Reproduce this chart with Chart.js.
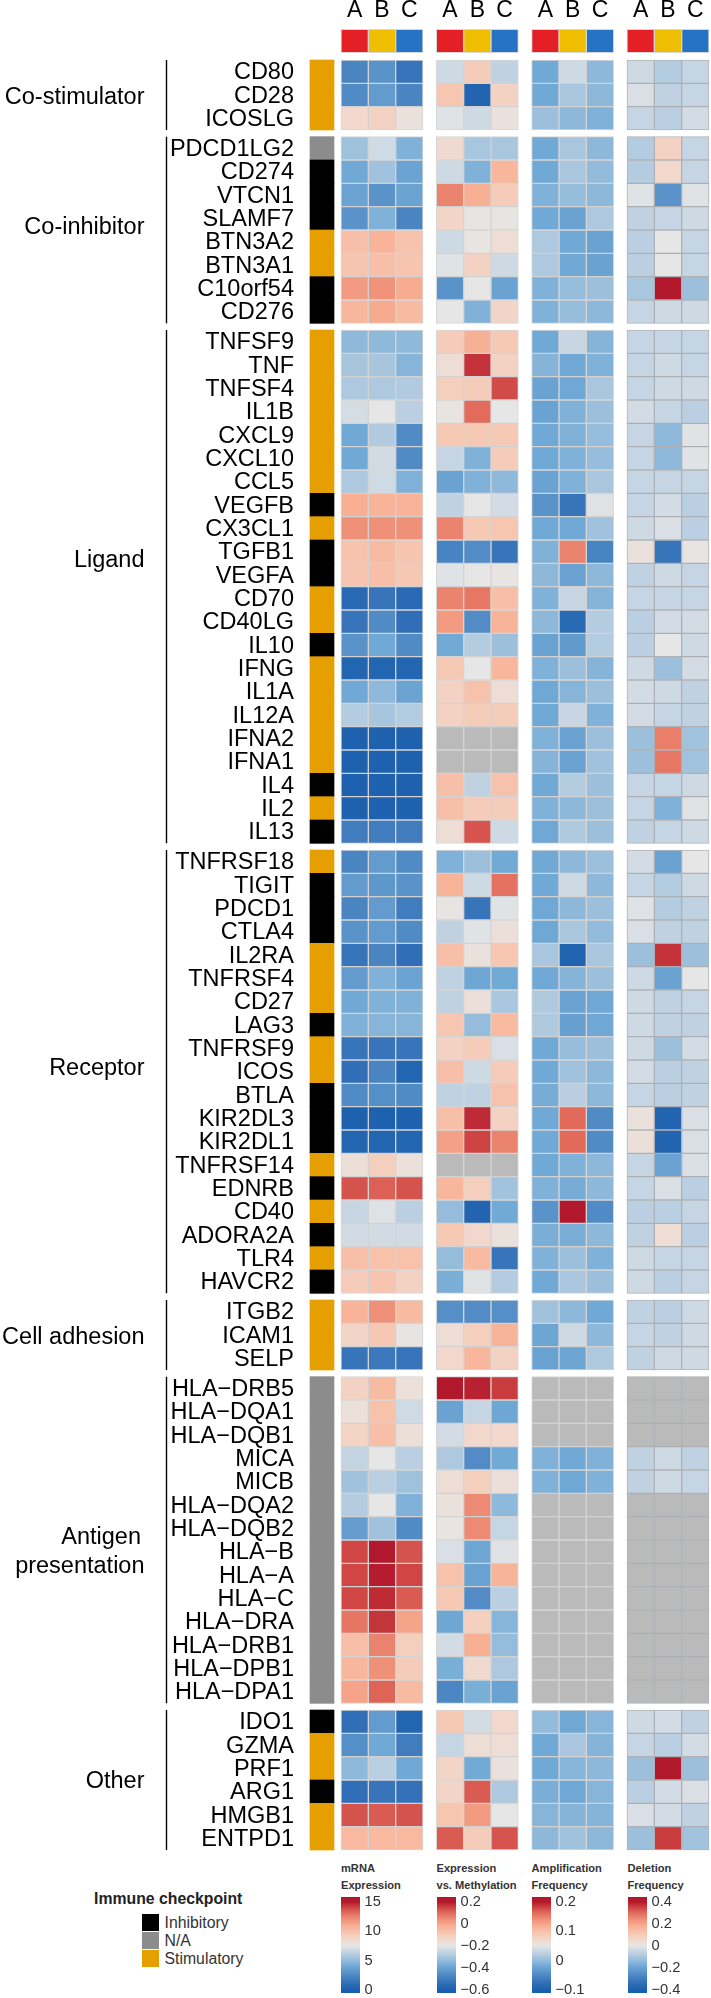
<!DOCTYPE html>
<html>
<head>
<meta charset="utf-8">
<title>Immune checkpoint heatmap</title>
<script src="https://cdn.jsdelivr.net/npm/chart.js@4"></script>
<style>
    html, body { margin: 0; padding: 0; background: #fff; }
    #page { position: relative; width: 711px; height: 1998px; overflow: hidden; font-family: "Liberation Sans", Arial, sans-serif; }
    canvas { position: absolute; display: block; }
    .title { position: absolute; font-weight: bold; font-size: 11.1px; line-height: 17px; color: #333; white-space: nowrap; }
    .legendTitle { position: absolute; left: 94px; top: 1890px; font-weight: bold; font-size: 15.8px; color: #222; white-space: nowrap; }
    .swatch { position: absolute; left: 142px; width: 17px; height: 17px; }
    .swatchLabel { position: absolute; left: 164.5px; font-size: 15.8px; line-height: 17px; color: #333; }
</style>
</head>
<body>
<div id="page">
    <canvas id="mainChart"></canvas>
</div>
<script>
'use strict';

let subtypes = ['A', 'B', 'C'];
let subtypeColors = ['#e41f26', '#efbe00', '#2672c4'];

let groupNames = [['Co-stimulator'], ['Co-inhibitor'], ['Ligand'], ['Receptor'], ['Cell adhesion'], ['Antigen', 'presentation'], ['Other']];
let groupSizes = [3, 8, 22, 19, 3, 14, 6];

let genes = [
    'CD80', 'CD28', 'ICOSLG',
    'PDCD1LG2', 'CD274', 'VTCN1', 'SLAMF7', 'BTN3A2', 'BTN3A1', 'C10orf54', 'CD276',
    'TNFSF9', 'TNF', 'TNFSF4', 'IL1B', 'CXCL9', 'CXCL10', 'CCL5', 'VEGFB', 'CX3CL1', 'TGFB1', 'VEGFA',
    'CD70', 'CD40LG', 'IL10', 'IFNG', 'IL1A', 'IL12A', 'IFNA2', 'IFNA1', 'IL4', 'IL2', 'IL13',
    'TNFRSF18', 'TIGIT', 'PDCD1', 'CTLA4', 'IL2RA', 'TNFRSF4', 'CD27', 'LAG3', 'TNFRSF9', 'ICOS', 'BTLA',
    'KIR2DL3', 'KIR2DL1', 'TNFRSF14', 'EDNRB', 'CD40', 'ADORA2A', 'TLR4', 'HAVCR2',
    'ITGB2', 'ICAM1', 'SELP',
    'HLA−DRB5', 'HLA−DQA1', 'HLA−DQB1', 'MICA', 'MICB', 'HLA−DQA2', 'HLA−DQB2', 'HLA−B', 'HLA−A', 'HLA−C',
    'HLA−DRA', 'HLA−DRB1', 'HLA−DPB1', 'HLA−DPA1',
    'IDO1', 'GZMA', 'PRF1', 'ARG1', 'HMGB1', 'ENTPD1'
];

// S stimulatory, I inhibitory, N not available
let checkpointTypes = [
    'S', 'S', 'S',
    'N', 'I', 'I', 'I', 'S', 'S', 'I', 'I',
    'S', 'S', 'S', 'S', 'S', 'S', 'S', 'I', 'S', 'I', 'I',
    'S', 'S', 'I', 'S', 'S', 'S', 'S', 'S', 'I', 'S', 'I',
    'S', 'I', 'I', 'I', 'S', 'S', 'S', 'I', 'S', 'S', 'I',
    'I', 'I', 'S', 'I', 'S', 'I', 'S', 'I',
    'S', 'S', 'S',
    'N', 'N', 'N', 'N', 'N', 'N', 'N', 'N', 'N', 'N',
    'N', 'N', 'N', 'N',
    'I', 'S', 'S', 'I', 'S', 'S'
];

let mrnaExpression = [
    [2.3, 3, 1.5], [2.6, 3.4, 2.3], [8.6, 9, 7.9],
    [5.3, 6.8, 4.5], [4.1, 5.4, 3.8], [3.8, 3, 3.8], [3, 4.5, 2.3], [10.1, 10.7, 9.9], [9.8, 10.1, 9.8], [11.6, 11.9, 11], [10.5, 11.1, 10.3],
    [4.9, 4.9, 4.9], [5.6, 5.6, 4.7], [5.8, 5.8, 5.9], [7, 7.5, 6.2], [4.1, 5.9, 2.6], [4.1, 6.9, 2.6], [5.8, 6.8, 4.5], [10.9, 10.7, 10.7], [12, 12, 12], [9.9, 10.3, 9.8], [9.8, 10.1, 9.6],
    [0.8, 1.5, 0.8], [1.5, 2.6, 1.1], [3, 4.1, 2.6], [0.4, 0.4, 0.4], [4.1, 4.9, 3.8], [6, 5.6, 6], [0.2, 0.2, 0.2], [0.2, 0.2, 0.2], [0.2, 0.2, 0.2], [0.2, 0.2, 0.2], [1.9, 1.9, 1.9],
    [2.3, 3.4, 2.6], [3.4, 3.2, 3], [2.3, 3.4, 1.9], [3, 3.4, 2.6], [1.5, 2.3, 1.1], [3.4, 4.5, 3.8], [4.1, 4.5, 4.5], [4.5, 4.7, 4.7], [1.5, 1.5, 1.5], [1.1, 2.3, 0.4], [2.6, 2.8, 2.6],
    [0.2, 0.2, 0.2], [0.4, 0.4, 0.4], [8.1, 9.2, 8], [13.7, 13.4, 13.7], [6.6, 7.3, 6.2], [6.9, 6.9, 6.9], [10.1, 10, 10], [9.4, 9.8, 9],
    [10.7, 12, 10.3], [8.8, 9.6, 7.7], [1.5, 1.7, 1.4],
    [9, 10.3, 8], [8, 10, 6.8], [8.9, 10.1, 8.1], [6.5, 7.5, 6.2], [5.4, 6.2, 5.3], [6, 7.5, 4.5], [3.5, 5.4, 2.6], [14, 15, 13.7], [14, 14.9, 14], [14, 14.6, 13.5],
    [12.8, 14.4, 11.3], [10.1, 12.4, 9.2], [10.5, 12, 9.4], [11.3, 13.3, 10.3],
    [1.1, 3.4, 0.4], [2.8, 4.1, 1.9], [4.9, 6.2, 4.1], [1.1, 1.5, 1.3], [13.7, 13.5, 13.7], [10.4, 10.4, 10.4]
];

let exprVsMethylation = [
    [-0.24, -0.1, -0.26], [-0.08, -0.58, -0.12], [-0.21, -0.24, -0.18],
    [-0.15, -0.3, -0.3], [-0.24, -0.36, -0.04], [0.06, -0.02, -0.1], [-0.13, -0.19, -0.19], [-0.24, -0.19, -0.16], [-0.21, -0.12, -0.24], [-0.44, -0.2, -0.4], [-0.2, -0.36, -0.13],
    [-0.1, -0.02, -0.09], [-0.16, 0.17, -0.12], [-0.11, -0.1, 0.14], [-0.19, 0.1, -0.2], [-0.09, -0.09, -0.09], [-0.25, -0.36, -0.1], [-0.4, -0.36, -0.34], [-0.26, -0.2, -0.23], [0.06, -0.09, -0.08], [-0.48, -0.46, -0.52], [-0.21, -0.2, -0.19],
    [0.06, 0.08, -0.06], [0.02, -0.46, -0.03], [-0.38, -0.28, -0.32], [-0.09, -0.2, -0.04], [-0.12, -0.07, -0.16], [-0.12, -0.1, -0.1], [null, null, null], [null, null, null], [-0.06, -0.26, -0.07], [-0.06, -0.1, -0.1], [-0.16, 0.13, -0.24],
    [-0.36, -0.32, -0.38], [-0.03, -0.24, 0.09], [-0.19, -0.52, -0.21], [-0.26, -0.21, -0.17], [-0.06, -0.18, -0.08], [-0.26, -0.39, -0.38], [-0.26, -0.17, -0.3], [-0.08, -0.33, -0.05], [-0.12, -0.1, -0.22], [-0.06, -0.24, -0.1], [-0.26, -0.26, -0.07],
    [-0.06, 0.18, -0.12], [0.01, 0.15, 0.06], [null, null, null], [-0.04, -0.11, -0.31], [-0.33, -0.58, -0.38], [-0.09, -0.14, -0.18], [-0.33, -0.05, -0.52], [-0.37, -0.21, -0.28],
    [-0.45, -0.46, -0.45], [-0.16, -0.11, -0.03], [-0.14, -0.04, -0.12],
    [0.2, 0.19, 0.16], [-0.4, -0.25, -0.39], [-0.23, -0.14, -0.14], [-0.29, -0.46, -0.38], [-0.16, -0.11, -0.17], [-0.18, 0.05, -0.34], [-0.19, 0.05, -0.25], [-0.22, -0.39, -0.21], [-0.07, -0.4, -0.03], [-0.09, -0.46, -0.27],
    [-0.39, -0.11, -0.35], [-0.23, -0.02, -0.33], [-0.37, -0.15, -0.29], [-0.47, -0.37, -0.4],
    [-0.09, -0.23, -0.14], [-0.25, -0.16, -0.16], [-0.13, -0.38, -0.18], [-0.13, 0.12, -0.29], [-0.08, 0.02, -0.2], [0.12, -0.1, 0.13]
];

let ampFrequency = [
    [-0.018, 0.035, -0.003], [-0.018, 0.013, -0.003], [0.005, -0.003, -0.01],
    [-0.018, 0.013, -0.003], [-0.018, 0.013, 0], [-0.01, 0.002, -0.003], [-0.018, -0.025, 0.016], [0.016, -0.018, -0.025], [0.016, -0.018, -0.025], [-0.01, 0.002, 0.005], [-0.01, 0.002, -0.003],
    [-0.018, 0.032, -0.007], [-0.007, -0.018, -0.01], [-0.025, -0.02, 0.013], [-0.025, -0.01, 0.005], [-0.018, -0.01, 0.002], [-0.018, -0.01, 0.002], [-0.025, -0.01, 0.013], [-0.04, -0.07, 0.046], [-0.018, -0.018, 0.008], [-0.01, 0.148, -0.055], [-0.003, -0.025, -0.003],
    [-0.01, 0.032, -0.007], [-0.003, -0.085, 0.02], [-0.025, -0.033, 0.02], [-0.01, 0.005, -0.007], [-0.02, -0.006, 0.005], [-0.018, 0.032, -0.01], [-0.01, -0.025, 0.005], [-0.007, -0.025, 0.008], [-0.018, 0.02, 0.005], [-0.01, -0.003, 0.005], [-0.02, 0.017, 0.005],
    [-0.018, -0.003, 0.005], [-0.018, 0.035, -0.003], [-0.02, -0.003, 0.005], [-0.02, 0.013, 0], [0.013, -0.093, 0.013], [-0.018, -0.007, 0.005], [0.017, -0.025, -0.02], [0.017, -0.028, -0.02], [-0.018, 0.002, 0.005], [-0.018, 0.008, -0.003], [-0.015, 0.023, -0.003],
    [-0.018, 0.163, -0.048], [-0.018, 0.163, -0.048], [-0.018, -0.01, -0.003], [-0.01, -0.015, -0.003], [-0.04, 0.2, -0.048], [-0.013, -0.013, -0.003], [-0.01, 0.005, -0.01], [-0.018, 0.013, 0.005],
    [0.008, -0.003, -0.018], [-0.022, 0.035, -0.003], [-0.025, -0.022, 0.017],
    [null, null, null], [null, null, null], [null, null, null], [-0.01, -0.018, -0.01], [-0.01, -0.02, -0.01], [null, null, null], [null, null, null], [null, null, null], [null, null, null], [null, null, null],
    [null, null, null], [null, null, null], [null, null, null], [null, null, null],
    [0, -0.02, -0.006], [-0.018, 0.013, -0.007], [-0.018, -0.006, -0.003], [-0.013, -0.019, -0.006], [-0.006, -0.007, -0.007], [-0.003, 0.008, -0.003]
];

let delFrequency = [
    [-0.04, -0.08, -0.05], [-0.02, -0.06, -0.05], [-0.05, -0.07, -0.03],
    [-0.08, 0.08, -0.05], [-0.08, 0.06, -0.05], [-0.01, -0.24, -0.01], [-0.06, -0.05, -0.04], [-0.07, 0, -0.05], [-0.07, 0, -0.05], [-0.1, 0.4, -0.12], [-0.05, -0.04, -0.04],
    [-0.05, -0.05, -0.05], [-0.05, -0.04, -0.05], [-0.05, -0.04, -0.04], [-0.03, -0.05, -0.07], [-0.05, -0.14, -0.01], [-0.05, -0.14, -0.01], [-0.05, -0.05, -0.05], [-0.05, -0.03, -0.07], [-0.04, -0.02, -0.07], [0.02, -0.32, 0.01], [-0.06, -0.04, -0.05],
    [-0.05, -0.05, -0.05], [-0.07, -0.03, -0.03], [-0.07, 0, -0.04], [-0.04, -0.12, -0.03], [-0.03, -0.04, -0.06], [-0.03, -0.05, -0.06], [-0.12, 0.27, -0.11], [-0.12, 0.28, -0.11], [-0.05, -0.05, -0.04], [-0.05, -0.16, -0.01], [-0.06, -0.05, -0.04],
    [-0.03, -0.2, 0], [-0.05, -0.08, -0.04], [-0.01, -0.08, -0.06], [-0.02, -0.06, -0.06], [-0.12, 0.37, -0.12], [-0.04, -0.2, 0], [-0.04, -0.06, -0.05], [-0.04, -0.06, -0.06], [-0.04, -0.12, -0.03], [-0.03, -0.07, -0.06], [-0.05, -0.07, -0.06],
    [0.02, -0.38, -0.02], [0.03, -0.38, -0.02], [-0.05, -0.2, -0.02], [-0.05, -0.02, -0.07], [-0.07, -0.07, -0.05], [-0.06, 0.04, -0.07], [-0.04, -0.05, -0.05], [-0.04, -0.07, -0.05],
    [-0.06, -0.07, -0.04], [-0.05, -0.06, -0.04], [-0.06, -0.04, -0.04],
    [null, null, null], [null, null, null], [null, null, null], [-0.06, -0.04, -0.06], [-0.06, -0.04, -0.05], [null, null, null], [null, null, null], [null, null, null], [null, null, null], [null, null, null],
    [null, null, null], [null, null, null], [null, null, null], [null, null, null],
    [-0.04, -0.03, -0.06], [-0.05, -0.07, -0.03], [-0.12, 0.4, -0.12], [-0.07, -0.03, -0.02], [-0.02, -0.03, -0.06], [-0.12, 0.36, -0.11]
];

let panelTitles = [['mRNA', 'Expression'], ['Expression', 'vs. Methylation'], ['Amplification', 'Frequency'], ['Deletion', 'Frequency']];
let panelRanges = [[0, 15], [-0.6, 0.2], [-0.1, 0.2], [-0.4, 0.4]];
let panelTicks = [[0, 5, 10, 15], [-0.6, -0.4, -0.2, 0, 0.2], [-0.1, 0, 0.1, 0.2], [-0.4, -0.2, 0, 0.2, 0.4]];
let barRanges = [[-0.5, 15.8], [-0.627, 0.245], [-0.11, 0.217], [-0.427, 0.445]];

let checkpointNames = ['Inhibitory', 'N/A', 'Stimulatory'];
let checkpointColors = { I: '#000000', N: '#8c8c8c', S: '#e69f00' };
let naColor = '#bababa';
let panelBorders = ['rgba(205,205,205,0.8)', 'rgba(205,205,205,0.8)', 'rgba(205,205,205,0.8)', 'rgba(168,172,176,0.9)'];

// colour ramp, position runs -10 (low) to 10 (high), middle of the range is 0
let rampStops = [
    [-10, 26, 95, 173], [-8, 56, 116, 186], [-6, 90, 147, 201], [-4.5, 114, 170, 214], [-3, 156, 192, 220], [-1.5, 192, 210, 226],
    [0, 230, 230, 230], [1.5, 242, 216, 204], [3, 247, 198, 176], [4.5, 248, 176, 148], [6, 239, 144, 120], [7.5, 226, 107, 92],
    [9, 201, 60, 62], [10, 178, 24, 43]
];

function colorFor(value, range) {
    if (value === null) {
        return naColor;
    }
    let mid = (range[0] + range[1]) / 2;
    let pos = (value - mid) / (range[1] - range[0]) * 20;
    pos = Math.max(-10, Math.min(10, pos));
    for (let i = 1; i < rampStops.length; i++) {
        if (pos <= rampStops[i][0]) {
            let a = rampStops[i - 1];
            let b = rampStops[i];
            let t = (pos - a[0]) / (b[0] - a[0]);
            return `rgb(${a[1] + (b[1] - a[1]) * t}, ${a[2] + (b[2] - a[2]) * t}, ${a[3] + (b[3] - a[3]) * t})`;
        }
    }
    return naColor;
}

// layout, in px of the 711x1998 page
let rowHeight = 70 / 3;
let cellWidth = 82 / 3;
let firstRowCenter = 60 + rowHeight / 2;
let firstCellLeft = 341;
let plotLeft = 306;
let plotTop = 28;
let mainHeight = 1856;
let groupGap = 2 / 7;               // in rows
let panelStep = 95.33 / cellWidth;  // in cells
let headerRow = -1.314;
let annotationLeft = (310 - firstCellLeft) / cellWidth;
let annotationWidth = 24 / cellWidth;
let geneFont = 23.5;

// row position of every gene, with a gap between the groups
let rowPositions = [];
let groupRanges = [];
(function () {
    let row = 0;
    for (let g = 0; g < groupSizes.length; g++) {
        let top = row + g * groupGap;
        for (let i = 0; i < groupSizes[g]; i++) {
            rowPositions.push(top + i);
        }
        groupRanges.push([top - 0.5, top + groupSizes[g] - 0.5]);
        row += groupSizes[g];
    }
})();

// nudges (in rows) because the side labels are not quite centred in the picture
let groupLabelShift = [0.11, -0.1, -1.1, -0.12, 0.11, 0.51, 0.08];

let panelData = [mrnaExpression, exprVsMethylation, ampFrequency, delFrequency];
let datasets = [];
let columnCenters = [];
let columnLabels = [];

for (let p = 0; p < panelData.length; p++) {
    for (let c = 0; c < 3; c++) {
        let left = p * panelStep + c;
        let points = [{ x: [left, left + 1], y: headerRow }];
        let colors = [subtypeColors[c]];
        let borders = ['rgba(205,205,205,0.8)'];
        for (let r = 0; r < genes.length; r++) {
            points.push({ x: [left, left + 1], y: rowPositions[r] });
            colors.push(colorFor(panelData[p][r][c], panelRanges[p]));
            borders.push(panelBorders[p]);
        }
        datasets.push({
            label: panelTitles[p].join(' ') + ' ' + subtypes[c],
            data: points,
            backgroundColor: colors,
            borderColor: borders,
            borderWidth: 1,
            borderSkipped: false
        });
        columnCenters.push(left + 0.5);
        columnLabels.push(subtypes[c]);
    }
}

datasets.push({
    label: 'Immune checkpoint',
    data: rowPositions.map(function (y) {
        return { x: [annotationLeft, annotationLeft + annotationWidth], y: y };
    }),
    backgroundColor: checkpointTypes.map(function (t) {
        return checkpointColors[t];
    }),
    borderWidth: 0
});

// group names and the black line beside each group
let groupBrackets = {
    id: 'groupBrackets',
    afterDraw(chart) {
        let ctx = chart.ctx;
        let yScale = chart.scales.y;
        ctx.save();
        ctx.fillStyle = '#000';
        ctx.strokeStyle = '#000';
        ctx.lineWidth = 1.4;
        ctx.font = geneFont + 'px "Liberation Sans", Arial, sans-serif';
        ctx.textAlign = 'right';
        ctx.textBaseline = 'middle';
        for (let g = 0; g < groupRanges.length; g++) {
            let top = yScale.getPixelForValue(groupRanges[g][0]);
            let bottom = yScale.getPixelForValue(groupRanges[g][1]);
            ctx.beginPath();
            ctx.moveTo(166.5, top);
            ctx.lineTo(166.5, bottom);
            ctx.stroke();
            let middle = yScale.getPixelForValue((groupRanges[g][0] + groupRanges[g][1]) / 2 + groupLabelShift[g]);
            let lines = groupNames[g];
            for (let i = 0; i < lines.length; i++) {
                let shift = lines.length > 1 && i === 0 ? 3.5 : 0;
                ctx.fillText(lines[i], 144.5 - shift, middle + (i - (lines.length - 1) / 2) * 28.5);
            }
        }
        ctx.restore();
    }
};

let mainCanvas = document.getElementById('mainChart');
mainCanvas.width = 711;
mainCanvas.height = mainHeight;
mainCanvas.style.width = '711px';
mainCanvas.style.height = mainHeight + 'px';

// the axes keep the exact plot area, no extra room for half a tick label
function dropPadding(axis) {
    axis.paddingTop = 0;
    axis.paddingBottom = 0;
    axis.paddingLeft = 0;
    axis.paddingRight = 0;
}

let mainChart = new Chart(mainCanvas.getContext('2d'), {
    type: 'bar',
    data: { datasets: datasets },
    plugins: [groupBrackets],
    options: {
        indexAxis: 'y',
        responsive: false,
        animation: false,
        devicePixelRatio: 1,
        grouped: false,
        barPercentage: 1,
        categoryPercentage: 1,
        layout: { padding: 0 },
        plugins: { legend: { display: false }, tooltip: { enabled: false } },
        scales: {
            x: {
                type: 'linear',
                position: 'top',
                min: (plotLeft - firstCellLeft) / cellWidth,
                max: (711 - firstCellLeft) / cellWidth,
                grid: { display: false },
                border: { display: false },
                afterBuildTicks(axis) {
                    axis.ticks = columnCenters.map(function (v) {
                        return { value: v };
                    });
                },
                afterFit(axis) {
                    axis.height = plotTop;
                    dropPadding(axis);
                },
                ticks: {
                    autoSkip: false,
                    maxRotation: 0,
                    padding: -4,
                    color: '#000',
                    font: { family: '"Liberation Sans", Arial, sans-serif', size: 23 },
                    callback(value, index) {
                        return columnLabels[index];
                    }
                }
            },
            y: {
                type: 'linear',
                reverse: true,
                offset: false,
                min: (plotTop - firstRowCenter) / rowHeight,
                max: (mainHeight - firstRowCenter) / rowHeight,
                grid: { display: false },
                border: { display: false },
                afterBuildTicks(axis) {
                    axis.ticks = rowPositions.map(function (v) {
                        return { value: v };
                    });
                },
                afterFit(axis) {
                    axis.width = plotLeft;
                    dropPadding(axis);
                },
                ticks: {
                    autoSkip: false,
                    padding: 4,
                    labelOffset: 1.2,
                    color: '#000',
                    font: { family: '"Liberation Sans", Arial, sans-serif', size: geneFont },
                    callback(value, index) {
                        return genes[index];
                    }
                }
            }
        }
    }
});

// colour bars under the panels
let barLefts = [341, 436.5, 531.5, 627.5];
let barTop = 1897;
let barBottom = 1993;
let page = document.getElementById('page');

function drawColorBar(p) {
    let title = document.createElement('div');
    title.className = 'title';
    title.style.left = barLefts[p] + 'px';
    title.style.top = '1860px';
    title.innerHTML = panelTitles[p].join('<br>');
    page.appendChild(title);

    let canvas = document.createElement('canvas');
    canvas.width = 70;
    canvas.height = 108;
    canvas.style.left = barLefts[p] + 'px';
    canvas.style.top = (barTop - 7) + 'px';
    page.appendChild(canvas);

    return new Chart(canvas.getContext('2d'), {
        type: 'bar',
        data: {
            labels: [''],
            datasets: [{
                data: [barRanges[p]],
                borderWidth: 0,
                borderSkipped: false,
                backgroundColor(context) {
                    let area = context.chart.chartArea;
                    if (!area) {
                        return naColor;
                    }
                    let grad = context.chart.ctx.createLinearGradient(0, area.bottom, 0, area.top);
                    for (let i = 0; i <= 40; i++) {
                        let v = barRanges[p][0] + (barRanges[p][1] - barRanges[p][0]) * i / 40;
                        grad.addColorStop(i / 40, colorFor(v, panelRanges[p]));
                    }
                    return grad;
                }
            }]
        },
        options: {
            responsive: false,
            animation: false,
            devicePixelRatio: 1,
            barPercentage: 1,
            categoryPercentage: 1,
            layout: { padding: { top: 7, bottom: 108 - 7 - (barBottom - barTop) } },
            plugins: { legend: { display: false }, tooltip: { enabled: false } },
            scales: {
                x: { display: false },
                y: {
                    position: 'right',
                    min: barRanges[p][0],
                    max: barRanges[p][1],
                    border: { display: false, dash: [4, 11] },
                    grid: { color: '#ffffff', lineWidth: 1, drawTicks: false },
                    afterBuildTicks(axis) {
                        axis.ticks = panelTicks[p].map(function (v) {
                            return { value: v };
                        });
                    },
                    afterFit(axis) {
                        axis.width = 51;
                        dropPadding(axis);
                    },
                    ticks: {
                        padding: 4.5,
                        color: '#333',
                        font: { family: '"Liberation Sans", Arial, sans-serif', size: 14.7 },
                        callback(value) {
                            return String(value).replace('-', '−');
                        }
                    }
                }
            }
        }
    });
}

for (let p = 0; p < panelTitles.length; p++) {
    drawColorBar(p);
}

// checkpoint legend
let legendTitle = document.createElement('div');
legendTitle.className = 'legendTitle';
legendTitle.textContent = 'Immune checkpoint';
page.appendChild(legendTitle);

let legendKeys = ['I', 'N', 'S'];
for (let i = 0; i < checkpointNames.length; i++) {
    let top = 1913.7 + i * 18;
    let box = document.createElement('div');
    box.className = 'swatch';
    box.style.top = top + 'px';
    box.style.background = checkpointColors[legendKeys[i]];
    page.appendChild(box);
    let text = document.createElement('div');
    text.className = 'swatchLabel';
    text.style.top = top + 'px';
    text.textContent = checkpointNames[i];
    page.appendChild(text);
}
</script>
</body>
</html>
